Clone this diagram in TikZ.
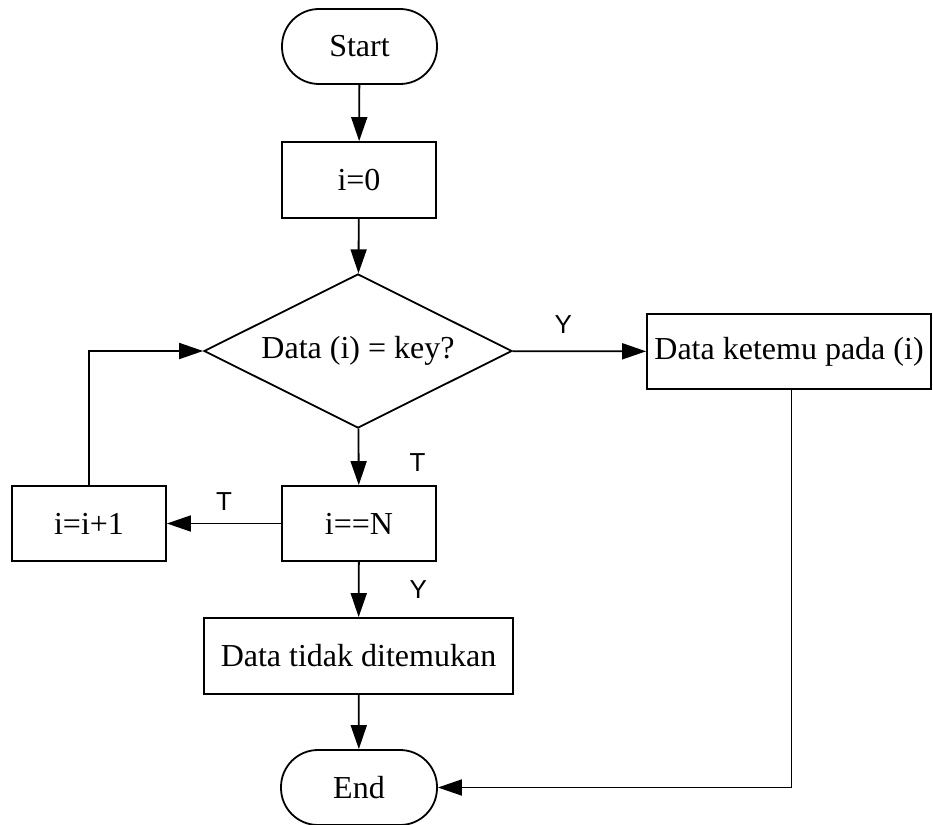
\documentclass[tikz,border=0pt]{standalone}
\usepackage{fontspec}
\setmainfont{Liberation Serif}
\newfontfamily\lblfont{Liberation Sans}
\usetikzlibrary{shapes.geometric,arrows.meta}
\begin{document}
\begin{tikzpicture}[x=1pt,y=-1pt,
  every node/.style={inner sep=0pt,font=\fontsize{32}{38}\selectfont},
  term/.style={draw,line width=1.8pt,rounded corners=37pt,minimum width=155pt,minimum height=75pt},
  procbox/.style={draw,line width=1.8pt,minimum height=75pt},
  decide/.style={draw,line width=1.8pt,diamond,aspect=2,minimum width=308pt,minimum height=154pt},
  arr/.style={line width=1.8pt,-{Triangle[length=24pt,width=16pt]}},
  lbl/.style={font=\lblfont\fontsize{26}{30}\selectfont}]
\useasboundingbox (0,0) rectangle (933,824);
\node[term] (start) at (359.5,46.5) {Start};
\node[procbox,minimum width=154pt,minimum height=76pt] (i0) at (359,180) {i=0};
\node[decide] (dec) at (358,351) {Data (i) = key?};
\node[procbox,minimum width=284pt] (ketemu) at (789,351.5) {Data ketemu pada (i)};
\node[procbox,minimum width=154pt] (iN) at (359,523.5) {i==N};
\node[procbox,minimum width=154pt] (inc) at (89,523.5) {i=i+1};
\node[procbox,minimum width=309pt,minimum height=76pt] (tidak) at (358.5,656) {Data tidak ditemukan};
\node[term,minimum width=156pt] (end) at (359,787.5) {End};
\draw[arr] (start) -- (i0);
\draw[arr] (i0) -- (dec);
\draw[arr] (dec) -- (ketemu) node[lbl,pos=0.38,above=17pt] {Y};
\draw[arr] (dec) -- (iN) node[lbl,pos=0.6,right=50pt] {T};
\draw[arr] (iN) -- (inc) node[lbl,midway,above=12pt] {T};
\draw[arr] (inc.north) |- (dec.west);
\draw[arr] (iN) -- (tidak) node[lbl,pos=0.5,right=50pt] {Y};
\draw[arr] (tidak) -- (end);
\draw[arr] ([xshift=2.5pt]ketemu.south) |- (end.east);
\end{tikzpicture}
\end{document}
